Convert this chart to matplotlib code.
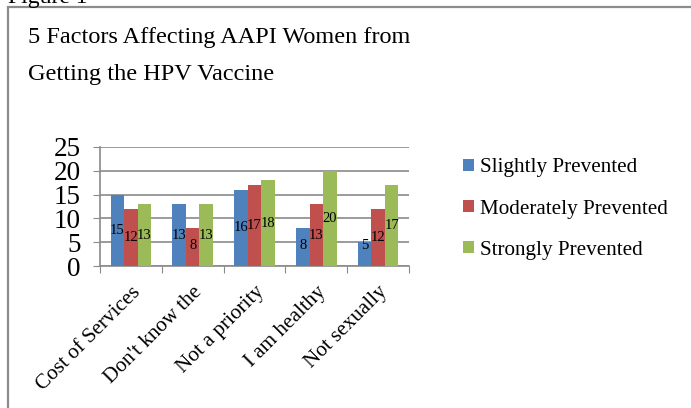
import matplotlib
matplotlib.use("Agg")
import matplotlib.pyplot as plt
import numpy as np
from matplotlib.patches import Rectangle

categories = ["Cost of Services", "Don't know the", "Not a priority", "I am healthy", "Not sexually"]
series_names = ["Slightly Prevented", "Moderately Prevented", "Strongly Prevented"]
slightly = [15, 13, 16, 8, 5]
moderately = [12, 8, 17, 13, 12]
strongly = [13, 13, 18, 20, 17]
colors = ["#4F81BD", "#C0504D", "#9BBB59"]
yticks = [0, 5, 10, 15, 20, 25]

W, H = 691, 408
fig = plt.figure(figsize=(W / 100, H / 100), dpi=100)
plt.rcParams['font.family'] = ['Liberation Serif', 'DejaVu Serif']

# border frame
fig.patches.append(Rectangle((8 / W, -0.1), 1.2, (H - 7) / H + 0.1, transform=fig.transFigure,
                             fill=False, edgecolor="#8c8c8c", linewidth=1.6))
fig.text(8 / W, 1 - 3 / H, "Figure 1", fontsize=17, ha='left', va='baseline', color='black')

fig.text(28 / W, 1 - 43 / H, "5 Factors Affecting AAPI Women from",
         fontsize=17.5, ha='left', va='baseline')
fig.text(28 / W, 1 - 80 / H, "Getting the HPV Vaccine",
         fontsize=17.5, ha='left', va='baseline')

ax = fig.add_axes([100 / W, 1 - 266 / H, 309 / W, 119 / H])
x = np.arange(len(categories))
bw = 0.22
data = [slightly, moderately, strongly]
for i, (vals, c) in enumerate(zip(data, colors)):
    pos = x + (i - 1) * bw
    ax.bar(pos, vals, width=bw, color=c, label=series_names[i], zorder=3)
    for p, v in zip(pos, vals):
        ax.text(p, max(v / 2, 4.3), str(v), ha='center', va='center', fontsize=10.5, zorder=4)

ax.set_xlim(-0.5, len(categories) - 0.5)
ax.set_ylim(0, 25)
ax.set_yticks(yticks)
ax.set_yticklabels([str(t) for t in yticks], fontsize=19.5)
ax.yaxis.grid(True, color="#8a8a8a", linewidth=1.2, zorder=0)
ax.set_xticks(np.arange(len(categories) + 1) - 0.5, minor=False)
ax.set_xticklabels([])
ax.set_xticks(x, minor=True)
ax.set_xticklabels(categories, minor=True, rotation=45, ha='right', va='top',
                   rotation_mode='anchor', fontsize=15.2)
ax.tick_params(axis='x', which='minor', length=0, pad=12)
ax.tick_params(axis='x', which='major', length=5, color="#8a8a8a")
ax.tick_params(axis='y', length=5, color="#8a8a8a", pad=9)
for s in ['top', 'right']:
    ax.spines[s].set_visible(False)
for s in ['left', 'bottom']:
    ax.spines[s].set_color("#8a8a8a")
    ax.spines[s].set_linewidth(1.2)

handles, labels = ax.get_legend_handles_labels()
fig.legend(handles, labels, loc='upper left', bbox_to_anchor=(455 / W, 1 - 150 / H),
           frameon=False, fontsize=15.2, handlelength=0.5, handleheight=0.5,
           handletextpad=0.3, labelspacing=1.05, borderaxespad=0)

fig.savefig("out.png", dpi=100)
